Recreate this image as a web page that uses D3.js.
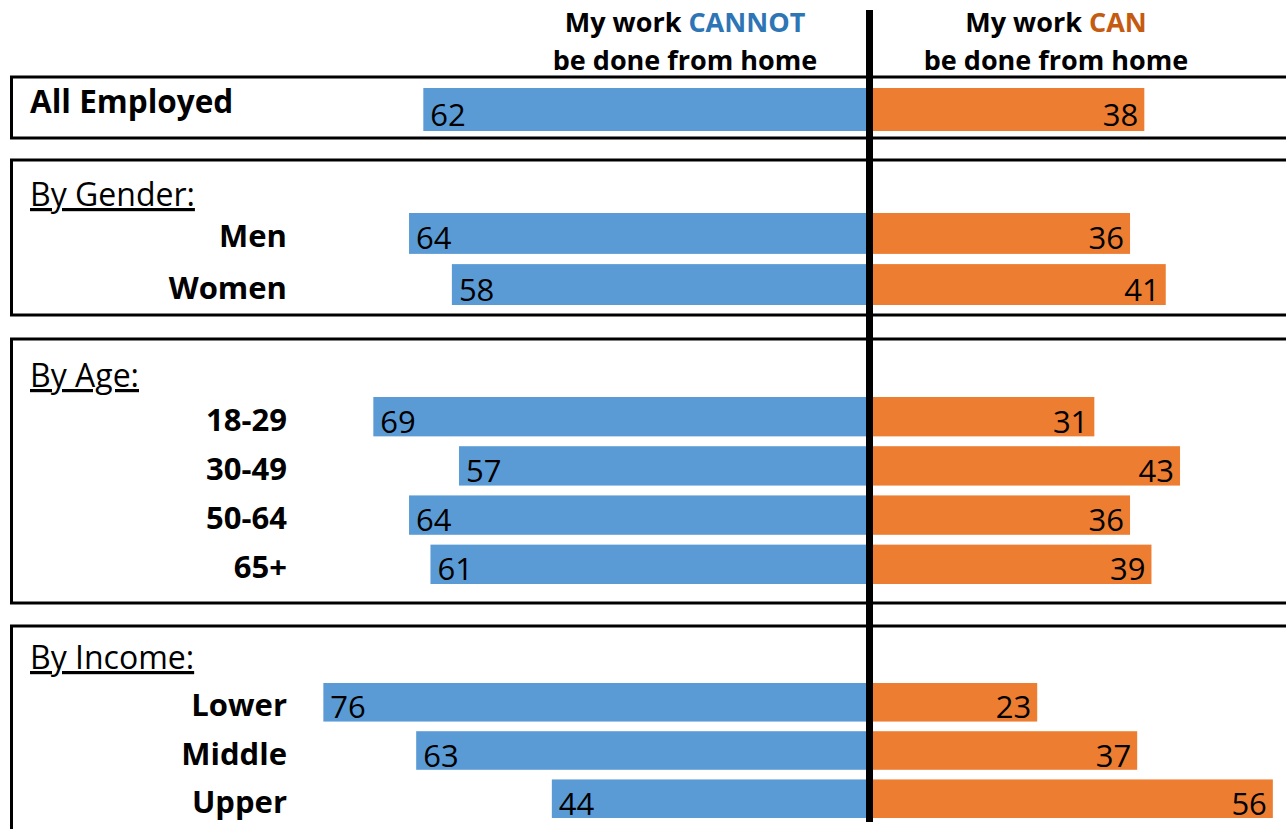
<!DOCTYPE html>
<html>
<head>
<meta charset="utf-8">
<script src="https://cdn.jsdelivr.net/npm/d3@7"></script>
<style>
  html, body { margin: 0; padding: 0; background: #fff; overflow: hidden; }
  svg { display: block; font-family: "Open Sans", sans-serif; }
</style>
</head>
<body>
<svg id="chart" width="1286" height="829"></svg>
<script>
// Data
const groupNames = ["All Employed", "By Gender:", "By Age:", "By Income:"];
const categories = ["All Employed", "Men", "Women", "18-29", "30-49", "50-64", "65+", "Lower", "Middle", "Upper"];
const categoryGroup = [0, 1, 1, 2, 2, 2, 2, 3, 3, 3];
const cannotValues = [62, 64, 58, 69, 57, 64, 61, 76, 63, 44];
const canValues = [38, 36, 41, 31, 43, 36, 39, 23, 37, 56];

// colours
const colors = {
  cannot: "#5b9bd5",
  can: "#ed7d31",
  cannotText: "#2e75b6",
  canText: "#c55a11"
};

// layout of each boxed panel (position only)
const layout = [
  { boxTop: 77, boxBottom: 138, barTop: 88, barBottom: 131, headY: null },
  { boxTop: 160, boxBottom: 315, barTop: 213, barBottom: 305, headY: 206 },
  { boxTop: 339, boxBottom: 603, barTop: 397, barBottom: 584, headY: 387 },
  { boxTop: 626, boxBottom: 860, barTop: 683, barBottom: 818, headY: 669 }
];

const svg = d3.select("#chart");
const center = 869.5;

const xLeft = d3.scaleLinear().domain([0, 100]).range([866, 152]);
const xRight = d3.scaleLinear().domain([0, 100]).range([873, 1587]);

const rows = categories.map((c, i) => ({
  name: c, group: categoryGroup[i], cannot: cannotValues[i], can: canValues[i]
}));

// boxes
groupNames.forEach((g, gi) => {
  const L = layout[gi];
  svg.append("rect")
    .attr("x", 11.5).attr("y", L.boxTop)
    .attr("width", 1400).attr("height", L.boxBottom - L.boxTop)
    .attr("fill", "none").attr("stroke", "#000").attr("stroke-width", 3);

  if (L.headY !== null) {
    svg.append("text")
      .attr("x", 30).attr("y", L.headY)
      .attr("font-size", 32)
      .style("text-decoration", "underline")
      .text(g);
  }

  // one band scale per panel
  const groupRows = rows.filter(r => r.group === gi);
  const y = d3.scaleBand()
    .domain(groupRows.map(r => r.name))
    .range([L.barTop, L.barBottom])
    .paddingInner(groupRows.length > 1 ? 0.2 : 0);

  const gRow = svg.append("g").selectAll("g")
    .data(groupRows)
    .enter().append("g");

  gRow.append("rect")
    .attr("x", d => xLeft(d.cannot))
    .attr("y", d => y(d.name))
    .attr("width", d => xLeft(0) - xLeft(d.cannot))
    .attr("height", y.bandwidth())
    .attr("fill", colors.cannot);

  gRow.append("rect")
    .attr("x", xRight(0))
    .attr("y", d => y(d.name))
    .attr("width", d => xRight(d.can) - xRight(0))
    .attr("height", y.bandwidth())
    .attr("fill", colors.can);

  gRow.append("text")
    .attr("x", d => xLeft(d.cannot) + 7)
    .attr("y", d => y(d.name) + y.bandwidth() / 2 + 16)
    .attr("font-size", 31)
    .attr("fill", "#000")
    .text(d => d.cannot);

  gRow.append("text")
    .attr("x", d => xRight(d.can) - 6)
    .attr("y", d => y(d.name) + y.bandwidth() / 2 + 16)
    .attr("text-anchor", "end")
    .attr("font-size", 31)
    .attr("fill", "#000")
    .text(d => d.can);

  // category labels
  if (gi === 0) {
    gRow.append("text")
      .attr("x", 30)
      .attr("y", d => y(d.name) + y.bandwidth() / 2 + 3)
      .attr("font-size", 31.5)
      .attr("font-weight", "bold")
      .text(d => d.name);
  } else {
    gRow.append("text")
      .attr("x", 287)
      .attr("y", d => y(d.name) + y.bandwidth() / 2 + 14)
      .attr("text-anchor", "end")
      .attr("font-size", 31)
      .attr("font-weight", "bold")
      .text(d => d.name);
  }
});

// column headers
const headers = [
  { x: 685, parts: ["My work ", "CANNOT"], color: colors.cannotText },
  { x: 1056, parts: ["My work ", "CAN"], color: colors.canText }
];
headers.forEach(h => {
  const t = svg.append("text")
    .attr("x", h.x).attr("y", 32)
    .attr("text-anchor", "middle")
    .attr("font-size", 27).attr("font-weight", "bold");
  t.append("tspan").text(h.parts[0]);
  t.append("tspan").attr("fill", h.color).text(h.parts[1]);
  svg.append("text")
    .attr("x", h.x).attr("y", 70)
    .attr("text-anchor", "middle")
    .attr("font-size", 27).attr("font-weight", "bold")
    .text("be done from home");
});

// centre divider
svg.append("line")
  .attr("x1", center).attr("x2", center)
  .attr("y1", 10).attr("y2", 822)
  .attr("stroke", "#000").attr("stroke-width", 7);
</script>
</body>
</html>
